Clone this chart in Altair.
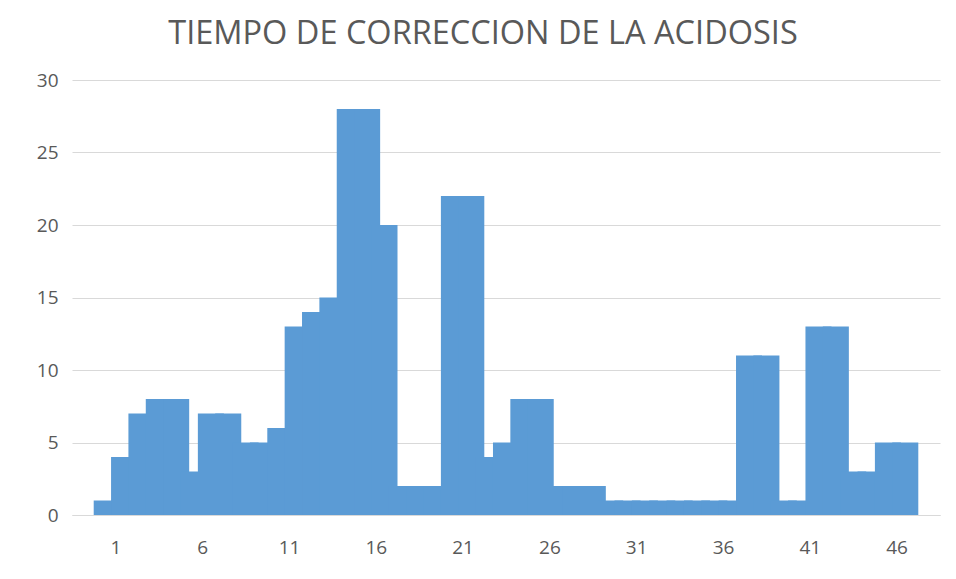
import altair as alt
import pandas as pd

# Category index (1..47) and the measured values
casos = list(range(1, 48))
tiempo = [1, 4, 7, 8, 8, 3, 7, 7, 5, 5,
          6, 13, 14, 15, 28, 28, 20, 2, 2, 2,
          22, 22, 4, 5, 8, 8, 2, 2, 2, 1,
          1, 1, 1, 1, 1, 1, 1, 11, 11, 1,
          1, 13, 13, 3, 3, 5, 5]
etiquetas_x = [1, 6, 11, 16, 21, 26, 31, 36, 41, 46]
etiquetas_y = [0, 5, 10, 15, 20, 25, 30]

df = pd.DataFrame({"caso": casos, "tiempo": tiempo})

gris = "#595959"

chart = (
    alt.Chart(df)
    .transform_calculate(x0="datum.caso - 1.25", x1="datum.caso + 0.25")
    .mark_bar(color="#5B9BD5")
    .encode(
        x=alt.X(
            "x0:Q",
            scale=alt.Scale(domain=[-1.5, 48.5], nice=False, zero=False),
            axis=alt.Axis(
                values=etiquetas_x,
                format="d",
                title=None,
                grid=False,
                ticks=False,
                domain=True,
                domainColor="#d9d9d9",
                domainWidth=1,
                labelColor=gris,
                labelFontSize=19,
                labelFont="Open Sans",
                labelPadding=23,
            ),
        ),
        x2="x1:Q",
        y=alt.Y(
            "tiempo:Q",
            scale=alt.Scale(domain=[0, 30], nice=False),
            axis=alt.Axis(
                values=etiquetas_y,
                title=None,
                grid=True,
                gridColor="#d9d9d9",
                gridWidth=1,
                ticks=False,
                domain=False,
                labelColor=gris,
                labelFontSize=19,
                labelFont="Open Sans",
                labelPadding=14,
            ),
        ),
        y2=alt.datum(0),
    )
    .properties(
        width=868,
        height=435,
        title=alt.TitleParams(
            "TIEMPO DE CORRECCION DE LA ACIDOSIS",
            font="Open Sans",
            fontSize=32.5,
            fontWeight="normal",
            color=gris,
            anchor="middle",
            baseline="alphabetic",
            offset=0,
            dx=-23,
            dy=5,
        ),
        autosize=alt.AutoSizeParams(type="none"),
        padding={"left": 64, "top": 72, "right": 8, "bottom": 48},
    )
    .configure(background="white")
    .configure_view(stroke=None)
)

chart.save("out.html", embed_options={"renderer": "svg", "actions": False})
